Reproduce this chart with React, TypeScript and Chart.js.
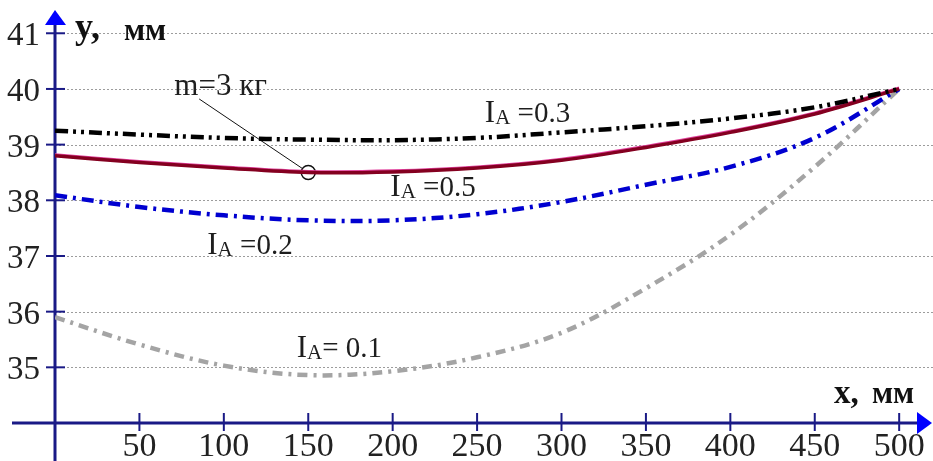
import { useEffect, useRef } from "react";
import { Chart, registerables } from "chart.js";

Chart.register(...registerables);

// x, мм
const xs = [0, 50, 100, 150, 200, 250, 300, 350, 400, 450, 500];
// y, мм for each I_A
const yIA03 = [39.25, 39.18, 39.12, 39.09, 39.08, 39.12, 39.22, 39.33, 39.47, 39.67, 40.0];
const yIA05 = [38.8, 38.68, 38.58, 38.5, 38.51, 38.58, 38.72, 38.95, 39.22, 39.55, 40.0];
const yIA02 = [38.09, 37.88, 37.73, 37.64, 37.64, 37.75, 37.97, 38.28, 38.6, 39.12, 40.0];
const yIA01 = [35.9, 35.41, 35.03, 34.86, 34.93, 35.18, 35.62, 36.42, 37.38, 38.6, 40.0];

// marked point on the I_A = 0.5 curve (m = 3 кг)
const markX = 150;
const markY = 38.5;

const xTicks = [50, 100, 150, 200, 250, 300, 350, 400, 450, 500];
const yTicks = [35, 36, 37, 38, 39, 40, 41];

const SERIF = '"Liberation Serif", "Times New Roman", serif';

const pts = (ys: number[]) => xs.map((x, i) => ({ x, y: ys[i] }));

function drawIA(ctx: CanvasRenderingContext2D, px: number, py: number, rest: string) {
  ctx.textAlign = "left";
  ctx.textBaseline = "alphabetic";
  ctx.fillStyle = "#1e1e1e";
  ctx.font = `31px ${SERIF}`;
  ctx.fillText("I", px, py);
  let cx = px + ctx.measureText("I").width;
  ctx.font = `21px ${SERIF}`;
  ctx.fillText("A", cx, py + 2);
  cx += ctx.measureText("A").width;
  ctx.font = `29px ${SERIF}`;
  ctx.fillText(rest, cx, py);
}

const axesPlugin = {
  id: "axesPlugin",
  beforeDatasetsDraw(chart: any) {
    const { ctx, scales } = chart;
    const xs_ = scales.x;
    const ys_ = scales.y;
    const x0 = xs_.getPixelForValue(0);
    const y0 = ys_.getPixelForValue(34);

    // dotted horizontal grid
    ctx.save();
    ctx.strokeStyle = "#9c9c9c";
    ctx.lineWidth = 1;
    ctx.setLineDash([2, 2]);
    for (const v of yTicks) {
      const py = Math.round(ys_.getPixelForValue(v)) + 0.5;
      ctx.beginPath();
      ctx.moveTo(x0, py);
      ctx.lineTo(chart.width, py);
      ctx.stroke();
    }
    ctx.restore();

    // leader line to the marked point
    ctx.save();
    ctx.strokeStyle = "#111";
    ctx.lineWidth = 1;
    ctx.beginPath();
    ctx.moveTo(xs_.getPixelForValue(85.4), ys_.getPixelForValue(39.82));
    ctx.lineTo(xs_.getPixelForValue(markX), ys_.getPixelForValue(markY));
    ctx.stroke();
    ctx.restore();

    // axes
    ctx.save();
    ctx.strokeStyle = "#1a1a86";
    ctx.lineWidth = 3;
    ctx.beginPath();
    ctx.moveTo(x0, chart.height);
    ctx.lineTo(x0, 20);
    ctx.moveTo(12, y0);
    ctx.lineTo(chart.width - 12, y0);
    ctx.stroke();

    // tick marks
    ctx.lineWidth = 2;
    for (const v of yTicks) {
      const py = ys_.getPixelForValue(v);
      ctx.beginPath();
      ctx.moveTo(x0 - 9, py);
      ctx.lineTo(x0 + 10, py);
      ctx.stroke();
    }
    for (const v of xTicks) {
      const px = xs_.getPixelForValue(v);
      ctx.beginPath();
      ctx.moveTo(px, y0 - 10);
      ctx.lineTo(px, y0 + 8);
      ctx.stroke();
    }
    ctx.restore();
  },
  beforeDatasetDraw(chart: any, args: any) {
    if (args.index === 1) {
      const ctx = chart.ctx;
      ctx.save();
      ctx.shadowColor = "#e0409c";
      ctx.shadowOffsetY = -0.8;
      ctx.shadowBlur = 0;
    }
  },
  afterDatasetDraw(chart: any, args: any) {
    if (args.index === 1) chart.ctx.restore();
  },
  afterDatasetsDraw(chart: any) {
    const { ctx, scales } = chart;
    const xs_ = scales.x;
    const ys_ = scales.y;
    const x0 = xs_.getPixelForValue(0);
    const y0 = ys_.getPixelForValue(34);

    ctx.save();
    // arrow heads
    ctx.fillStyle = "#0000ff";
    ctx.beginPath();
    ctx.moveTo(x0, 10);
    ctx.lineTo(x0 - 10, 25);
    ctx.lineTo(x0 + 11, 25);
    ctx.closePath();
    ctx.fill();
    ctx.beginPath();
    ctx.moveTo(chart.width - 1, y0);
    ctx.lineTo(chart.width - 16, y0 - 11);
    ctx.lineTo(chart.width - 16, y0 + 11);
    ctx.closePath();
    ctx.fill();

    // tick labels
    ctx.fillStyle = "#222";
    ctx.font = `33px ${SERIF}`;
    ctx.textAlign = "right";
    ctx.textBaseline = "alphabetic";
    for (const v of yTicks) {
      ctx.fillText(String(v), 40, ys_.getPixelForValue(v) + 12);
    }
    ctx.font = `34px ${SERIF}`;
    ctx.textAlign = "center";
    for (const v of xTicks) {
      ctx.fillText(String(v), xs_.getPixelForValue(v), 456);
    }

    // axis titles
    ctx.fillStyle = "#111";
    ctx.textAlign = "left";
    ctx.font = `bold 36px ${SERIF}`;
    ctx.fillText("y,", 75, 38);
    ctx.font = `bold 31px ${SERIF}`;
    ctx.fillText("мм", 124, 40);
    ctx.font = `bold 33px ${SERIF}`;
    ctx.fillText("x,", 834, 403);
    ctx.font = `bold 31px ${SERIF}`;
    ctx.fillText("мм", 872, 403);

    // curve labels
    drawIA(ctx, xs_.getPixelForValue(254.6), ys_.getPixelForValue(39.4), " =0.3");
    drawIA(ctx, xs_.getPixelForValue(198.6), ys_.getPixelForValue(38.07), " =0.5");
    drawIA(ctx, xs_.getPixelForValue(90.2), ys_.getPixelForValue(37.03), " =0.2");
    drawIA(ctx, xs_.getPixelForValue(143.2), ys_.getPixelForValue(35.18), "= 0.1");

    ctx.font = `31px ${SERIF}`;
    ctx.fillStyle = "#1e1e1e";
    ctx.fillText("m=3 кг", xs_.getPixelForValue(70.7), ys_.getPixelForValue(39.89));
    ctx.restore();
  },
};

export default function App() {
  const ref = useRef<HTMLCanvasElement | null>(null);

  useEffect(() => {
    if (!ref.current) return;
    const chart = new Chart(ref.current, {
      type: "line",
      data: {
        datasets: [
          {
            label: "IA=0.3",
            data: pts(yIA03),
            borderColor: "#000000",
            borderWidth: 4.5,
            borderDash: [13, 5, 3, 5, 3, 5],
            pointRadius: 0,
            tension: 0.35,
          },
          {
            label: "IA=0.5",
            data: pts(yIA05),
            borderColor: "#840020",
            borderWidth: 3.5,
            pointRadius: 0,
            tension: 0.35,
          },
          {
            label: "IA=0.2",
            data: pts(yIA02),
            borderColor: "#0000d0",
            borderWidth: 4.5,
            borderDash: [12, 6, 3, 6],
            pointRadius: 0,
            tension: 0.35,
          },
          {
            label: "IA=0.1",
            data: pts(yIA01),
            borderColor: "#a4a4a4",
            borderWidth: 4.5,
            borderDash: [10, 6, 3, 6],
            pointRadius: 0,
            tension: 0.35,
          },
          {
            label: "m=3 кг",
            data: [{ x: markX, y: markY }],
            showLine: false,
            pointRadius: 7,
            pointBackgroundColor: "#ffffff",
            pointBorderColor: "#111111",
            pointBorderWidth: 1.5,
          },
        ],
      },
      options: {
        animation: false,
        responsive: false,
        maintainAspectRatio: false,
        devicePixelRatio: 1,
        layout: { padding: { left: 55, right: 4, top: 11, bottom: 38 } },
        plugins: { legend: { display: false }, tooltip: { enabled: false } },
        scales: {
          x: { type: "linear", min: 0, max: 515, display: false },
          y: { type: "linear", min: 34, max: 41.4, display: false },
        },
      },
      plugins: [axesPlugin],
    });
    return () => chart.destroy();
  }, []);

  return (
    <div style={{ position: "fixed", left: 0, top: 0, width: 933, height: 461, background: "#fff" }}>
      <canvas ref={ref} width={933} height={461} style={{ display: "block" }} />
    </div>
  );
}
